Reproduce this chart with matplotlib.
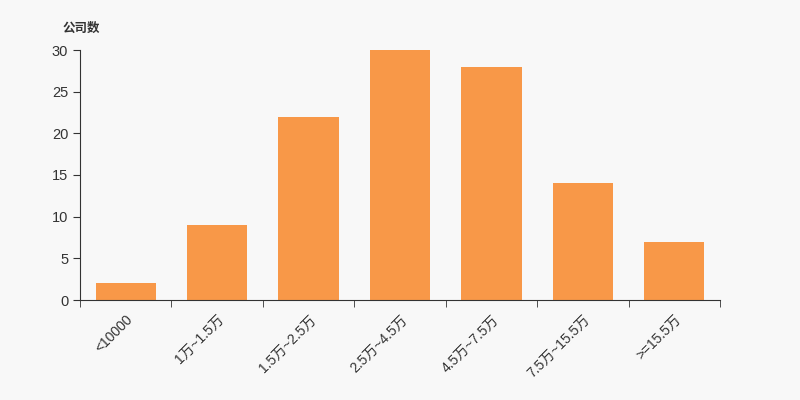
import matplotlib
matplotlib.use("Agg")
import matplotlib.pyplot as plt
import numpy as np

plt.rcParams['font.family'] = ['Liberation Sans', 'Noto Sans CJK SC', 'DejaVu Sans']

categories = ['<10000', '1万~1.5万', '1.5万~2.5万', '2.5万~4.5万', '4.5万~7.5万', '7.5万~15.5万', '>=15.5万']
counts = [2, 9, 22, 30, 28, 14, 7]

bg = '#f8f8f8'
fig = plt.figure(figsize=(8, 4), dpi=100, facecolor=bg)
ax = fig.add_axes([0.1, 0.25, 0.8, 0.625], facecolor=bg)

x = np.arange(len(categories))
ax.bar(x, counts, width=0.66, color='#f89848', zorder=2)

ax.set_xlim(-0.5, len(categories) - 0.5)
ax.set_ylim(0, 30)
ax.set_yticks(np.arange(0, 31, 5))

ax.set_xticks(x)
ax.set_xticklabels(categories, rotation=45, ha='right', va='top', rotation_mode='anchor')
ax.set_xticks(np.arange(-0.5, len(categories)), minor=True)
ax.tick_params(axis='x', which='major', length=0, pad=9, labelsize=10, labelcolor='#333333')
ax.tick_params(axis='x', which='minor', length=5, color='#333333', direction='out')
ax.tick_params(axis='y', length=5, color='#333333', labelsize=10.5, labelcolor='#333333')

for s in ['top', 'right']:
    ax.spines[s].set_visible(False)
for s in ['left', 'bottom']:
    ax.spines[s].set_color('#333333')

fig.text(0.078, 0.927, '公司数', fontsize=9, fontweight='bold', color='#333333', va='center')

fig.savefig('out.png', dpi=100, facecolor=bg)
